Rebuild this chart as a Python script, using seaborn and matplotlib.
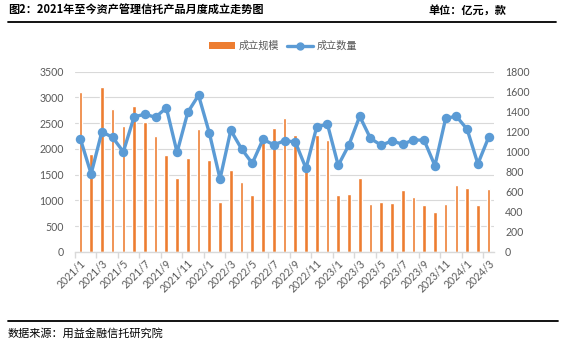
import matplotlib
matplotlib.use("Agg")
import matplotlib.pyplot as plt
import seaborn as sns
import pandas as pd
import numpy as np
from matplotlib.lines import Line2D
from matplotlib.patches import Patch

# 月份
months = [f"{y}/{m}" for y, m in
          [(2021, i) for i in range(1, 13)] + [(2022, i) for i in range(1, 13)]
          + [(2023, i) for i in range(1, 13)] + [(2024, i) for i in range(1, 4)]]

# 成立规模（亿元）
scale_values = [3110, 1900, 3200, 2770, 2440, 2830, 2520, 2245, 1880, 1435,
                1820, 2380, 1780, 970, 1590, 1360, 1105, 2200, 2400, 2610,
                2280, 1600, 2270, 2170, 1105, 1125, 1435, 930, 970, 950,
                1200, 1065, 910, 775, 930, 1300, 1240, 910, 1220]

# 成立数量（款）
count_values = [1130, 780, 1200, 1145, 1000, 1350, 1375, 1345, 1440, 995,
                1395, 1565, 1190, 730, 1215, 1030, 885, 1125, 1070, 1110,
                1100, 835, 1250, 1275, 865, 1070, 1355, 1135, 1065, 1110,
                1075, 1120, 1115, 862, 1335, 1355, 1225, 880, 1145]

left_ticks = [0, 500, 1000, 1500, 2000, 2500, 3000, 3500]
right_ticks = [0, 200, 400, 600, 800, 1000, 1200, 1400, 1600, 1800]

df = pd.DataFrame({"month": months, "scale": scale_values, "count": count_values})

sns.set_theme(style="white")
plt.rcParams["font.family"] = ["Lato", "Noto Sans CJK SC", "DejaVu Sans"]

ORANGE = "#ED7D31"
BLUE = "#5B9BD5"
GRID = "#D9D9D9"
TXT = "#595959"
CJK = ["Noto Sans CJK SC", "DejaVu Sans"]

fig = plt.figure(figsize=(5.67, 3.46), dpi=100)
fig.patch.set_facecolor("white")
ax = fig.add_axes([75 / 567, 1 - 252 / 346, 419 / 567, (252 - 71.7) / 346])

sns.barplot(data=df, x="month", y="scale", color=ORANGE, width=0.34,
            saturation=1, ax=ax, zorder=2)
ax.set_ylim(0, 3500)
ax.set_yticks(left_ticks)
ax.yaxis.grid(True, color=GRID, linewidth=0.8, zorder=0)
ax.set_axisbelow(True)

ax2 = ax.twinx()
sns.pointplot(data=df, x="month", y="count", color=BLUE, markers="o",
              linestyles="-", markersize=5, linewidth=2.4, ax=ax2)
ax2.set_ylim(0, 1800)
ax2.set_yticks(right_ticks)

n = len(months)
for a in (ax, ax2):
    a.set_xlim(-0.5, n - 0.5)
    a.set_xlabel("")
    a.set_ylabel("")
    for s in a.spines.values():
        s.set_visible(False)

ax.spines["bottom"].set_visible(True)
ax.spines["bottom"].set_color(GRID)
ax.spines["bottom"].set_linewidth(1.0)

ax.set_xticks(np.arange(0, n, 2))
ax.set_xticklabels(months[::2], rotation=45, ha="right", rotation_mode="anchor")
ax.set_xticks(np.arange(-0.5, n, 2), minor=True)
ax.tick_params(axis="x", which="major", length=0, pad=4, labelsize=7.6, labelcolor=TXT)
ax.tick_params(axis="x", which="minor", length=4, width=1.0, color=GRID, bottom=True)
ax.tick_params(axis="y", length=0, labelsize=7.6, labelcolor=TXT, pad=8)
ax2.tick_params(axis="y", length=0, labelsize=7.6, labelcolor=TXT, pad=8)
ax2.tick_params(axis="x", length=0, labelbottom=False)
ax2.grid(False)

# 图例
handles = [Patch(facecolor=ORANGE, edgecolor="none"),
           Line2D([], [], color=BLUE, lw=2.4, marker="o", markersize=5)]
leg = fig.legend(handles, ["成立规模", "成立数量"], loc="center",
                 bbox_to_anchor=(283 / 567, 1 - 46 / 346), ncol=2, frameon=False,
                 prop={"family": CJK, "size": 7.3}, handlelength=2.6,
                 handleheight=0.7, columnspacing=0.8, handletextpad=0.3)
for t in leg.get_texts():
    t.set_color(TXT)

# 标题与来源
fig.text(8 / 567, 1 - 10 / 346, "图2：2021年至今资产管理信托产品月度成立走势图",
         family=CJK, fontsize=8, fontweight="bold", color="black",
         ha="left", va="center")
fig.text(506 / 567, 1 - 10 / 346, "单位：亿元，款", family=CJK, fontsize=8,
         fontweight="bold", color="black", ha="right", va="center")
fig.add_artist(Line2D([8 / 567, 556 / 567], [1 - 22.3 / 346] * 2,
                      color="black", lw=1.3, transform=fig.transFigure))
fig.add_artist(Line2D([8 / 567, 558 / 567], [1 - 321 / 346] * 2,
                      color="black", lw=1.3, transform=fig.transFigure))
fig.text(8 / 567, 1 - 333 / 346, "数据来源：用益金融信托研究院", family=CJK,
         fontsize=8, color="black", ha="left", va="center")

fig.savefig("out.png", dpi=100, facecolor="white")
